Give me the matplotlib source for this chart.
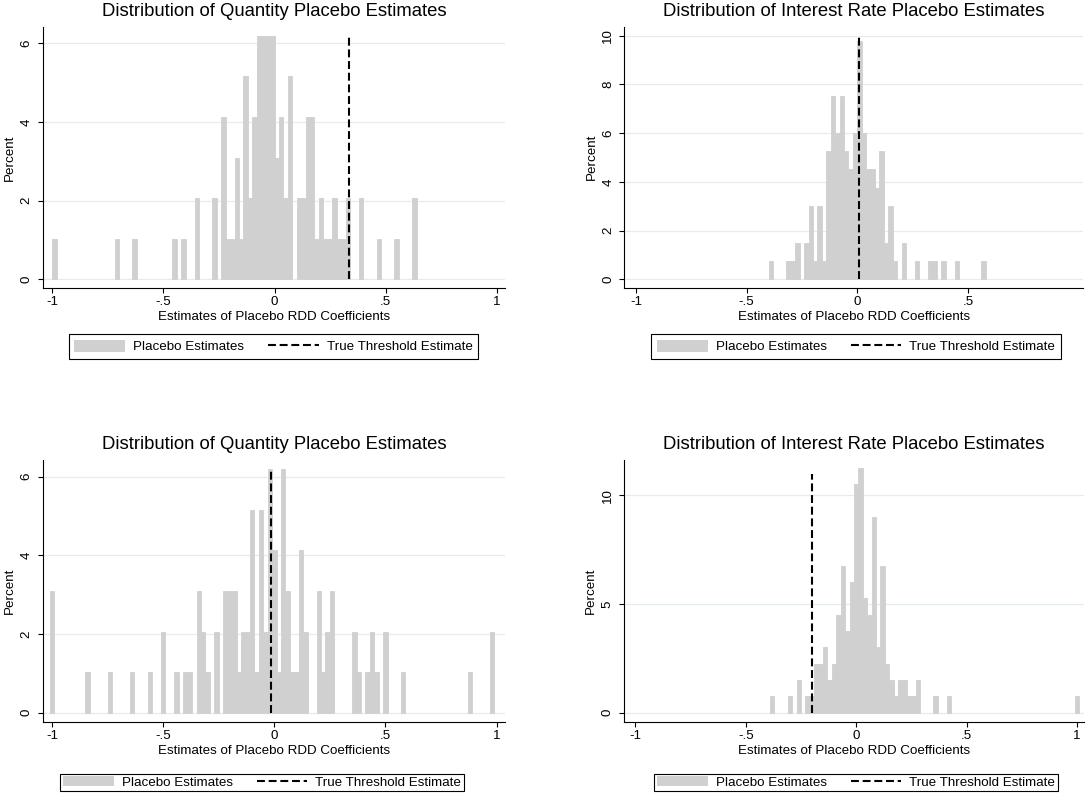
"""
Four placebo-estimate histograms (quantity / interest rate), Stata-like look.
Output: out.png
"""
import numpy as np
import matplotlib
matplotlib.use("Agg")
import matplotlib.pyplot as plt
from matplotlib.patches import Patch
from matplotlib.lines import Line2D

plt.rcParams["font.family"] = ["Liberation Sans", "DejaVu Sans"]

W, H = 1087, 793
BAR = "#D0D0D0"
GRID = "#E4ECEF"
DASH = (0, (3.8, 1.8))
BIN_W = 0.02
FS = 9.6

# --- data: bin index (from start, width BIN_W) and counts per bin ---
# top-left: quantity
q1_start = -1.0
q1_bins = [0, 14, 18, 27, 29, 32, 36, 38, 39, 40, 41, 42, 43, 44, 45, 46, 47, 48, 49,
           50, 51, 52, 53, 55, 56, 57, 58, 59, 60, 61, 62, 63, 64, 65, 66, 69, 73, 77, 81]
q1_counts = [1, 1, 1, 1, 1, 2, 2, 4, 1, 1, 3, 1, 5, 2, 4, 6, 6, 6, 6,
             3, 4, 2, 5, 2, 2, 4, 4, 1, 2, 1, 1, 2, 1, 1, 2, 2, 1, 1, 2]
q1_true = 0.334
q1_line_top = 6.2

# top-right: interest rate
r1_start = -1.0
r1_bins = [30, 34, 35, 36, 38, 39, 40, 41, 42, 43, 44, 45, 46, 47, 48, 49, 50, 51, 52,
           53, 54, 55, 56, 57, 58, 60, 63, 66, 67, 69, 72, 78]
r1_counts = [1, 1, 1, 2, 2, 4, 1, 4, 1, 7, 10, 8, 10, 7, 6, 8, 13, 8, 6,
             6, 5, 7, 2, 4, 1, 2, 1, 1, 1, 1, 1, 1]
r1_true = 0.008
r1_line_top = 10.0

# bottom-left: quantity
q2_start = -1.01
q2_bins = [0, 8, 13, 18, 22, 25, 28, 30, 31, 33, 34, 35, 37, 39, 40, 41, 42, 43, 44,
           45, 46, 47, 48, 49, 50, 51, 52, 53, 54, 55, 56, 57, 60, 61, 62, 63, 68, 69,
           71, 72, 73, 75, 79, 94, 99]
q2_counts = [3, 1, 1, 1, 1, 2, 1, 1, 1, 3, 2, 1, 2, 3, 3, 3, 1, 2, 2,
             5, 1, 5, 2, 6, 4, 1, 6, 3, 1, 1, 4, 2, 3, 1, 2, 3, 2, 1,
             1, 2, 1, 2, 1, 1, 2]
q2_true = -0.017
q2_line_top = 6.2

# bottom-right: interest rate
r2_start = -1.01
r2_bins = [31, 35, 37, 39, 40, 41, 42, 43, 44, 45, 46, 47, 48, 49, 50, 51, 52, 53, 54,
           55, 56, 57, 58, 59, 60, 61, 62, 63, 64, 68, 71, 100]
r2_counts = [1, 1, 2, 1, 1, 3, 3, 4, 2, 3, 6, 9, 5, 8, 14, 15, 7, 6, 12,
             4, 9, 3, 2, 1, 2, 2, 1, 1, 2, 1, 1, 1]
r2_true = -0.2
r2_line_top = 11.0

title_q = "Distribution of Quantity Placebo Estimates"
title_r = "Distribution of Interest Rate Placebo Estimates"
xlabel = "Estimates of Placebo RDD Coefficients"
ylabel = "Percent"
legend_labels = ["Placebo Estimates", "True Threshold Estimate"]

x_ticks = [-1, -0.5, 0, 0.5, 1]
x_ticklabels = ["-1", "-.5", "0", ".5", "1"]


def px_axes(fig, left, top, right, bottom):
    return fig.add_axes([left / W, 1 - bottom / H, (right - left) / W, (bottom - top) / H])


def draw_panel(fig, box, xlim, ylim, yticks, xt, xtl, start, bins, counts,
               true_x, line_top, title, leg_center, compact):
    left, top, right, bottom = box
    ax = px_axes(fig, left, top, right, bottom)
    ax_w, ax_h = right - left, bottom - top

    edges = start + np.asarray(bins) * BIN_W
    pct = np.asarray(counts) / np.sum(counts) * 100
    ax.bar(edges, pct, width=BIN_W, align="edge", color=BAR, edgecolor=BAR,
           linewidth=0.6, zorder=2)
    ax.plot([true_x, true_x], [0, line_top], color="black", lw=1.5, ls=DASH, zorder=3)

    ax.set_xlim(*xlim)
    ax.set_ylim(*ylim)
    ax.set_xticks(xt)
    ax.set_xticklabels(xtl)
    ax.set_yticks(yticks)
    ax.set_yticklabels([str(t) for t in yticks], rotation=90, va="center")
    ax.yaxis.grid(True, color=GRID, lw=0.9, zorder=0)
    ax.set_axisbelow(True)
    for s in ("top", "right"):
        ax.spines[s].set_visible(False)
    for s in ("left", "bottom"):
        ax.spines[s].set_linewidth(0.8)
    ax.tick_params(direction="out", length=3.6, width=0.8, labelsize=FS)
    ax.tick_params(axis="x", pad=2.5)
    ax.tick_params(axis="y", pad=3.5)

    ax.set_title(title, fontsize=13.3, pad=8)
    ax.set_xlabel(xlabel, fontsize=FS, va="center")
    ax.xaxis.set_label_coords(0.5, -29.3 / ax_h)
    ax.set_ylabel(ylabel, fontsize=FS, va="center")
    ax.yaxis.set_label_coords(-32.7 / ax_w, 0.5)

    handles = [Patch(facecolor=BAR, edgecolor="none"),
               Line2D([], [], color="black", lw=1.5, ls=DASH)]
    cx, cy = leg_center
    leg = fig.legend(handles, legend_labels, loc="center",
                     bbox_to_anchor=(cx / W, 1 - cy / H), ncol=2, frameon=True,
                     fancybox=False, edgecolor="black", framealpha=1, fontsize=FS,
                     handlelength=3.8, handleheight=0.75 if compact else 1.05,
                     handletextpad=0.6, columnspacing=1.8,
                     borderpad=0.2 if compact else 0.42, borderaxespad=0)
    leg.get_frame().set_linewidth(0.8)
    return ax


def main():
    fig = plt.figure(figsize=(W / 100, H / 100), dpi=100)
    fig.patch.set_facecolor("white")

    draw_panel(fig, (42.7, 27, 505, 287.7), (-1.044, 1.038), (-0.213, 6.41),
               [0, 2, 4, 6], x_ticks, x_ticklabels,
               q1_start, q1_bins, q1_counts, q1_true, q1_line_top,
               title_q, (273.5, 346.5), False)
    draw_panel(fig, (624.3, 26.7, 1083, 287.7), (-1.053, 1.020), (-0.345, 10.37),
               [0, 2, 4, 6, 8, 10], x_ticks[:4], x_ticklabels[:4],
               r1_start, r1_bins, r1_counts, r1_true, r1_line_top,
               title_r, (856, 346.5), False)
    draw_panel(fig, (42.7, 460, 505, 721.7), (-1.042, 1.038), (-0.229, 6.42),
               [0, 2, 4, 6], x_ticks, x_ticklabels,
               q2_start, q2_bins, q2_counts, q2_true, q2_line_top,
               title_q, (262, 782.5), True)
    draw_panel(fig, (623.5, 460, 1084, 721.7), (-1.054, 1.032), (-0.414, 11.63),
               [0, 5, 10], x_ticks, x_ticklabels,
               r2_start, r2_bins, r2_counts, r2_true, r2_line_top,
               title_r, (856, 782.5), True)

    fig.savefig("out.png", dpi=100, facecolor="white")
    plt.close(fig)


if __name__ == "__main__":
    main()
